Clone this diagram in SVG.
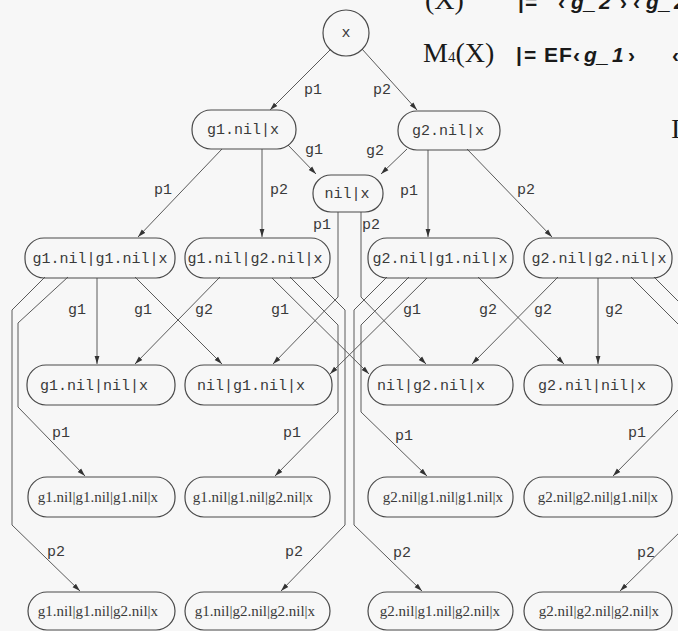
<svg xmlns="http://www.w3.org/2000/svg" width="678" height="631" viewBox="0 0 678 631">
  <defs>
    <marker id="ah" viewBox="0 0 8 6" refX="8" refY="3" markerWidth="8" markerHeight="6" orient="auto" markerUnits="userSpaceOnUse">
      <path d="M0,0.6 L8,3 L0,5.4 z" fill="#333"/>
    </marker>
    <style>
      .bg { fill: #f7f7f7; }
      .node rect, .node circle { fill: none; stroke: #4a4a4a; stroke-width: 1.2; }
      .e { fill: none; stroke: #5a5a5a; stroke-width: 1; marker-end: url(#ah); }
      .m { font-family: "Liberation Mono", "DejaVu Sans Mono", monospace; font-size: 15px; fill: #3a3a3a; }
      .mc { text-anchor: middle; }
      .s { font-family: "Liberation Serif", "DejaVu Serif", serif; font-size: 15px; fill: #3a3a3a; text-anchor: middle; }
      .lbl { font-family: "Liberation Mono", "DejaVu Sans Mono", monospace; font-size: 15px; fill: #3a3a3a; }
      .hs { font-family: "Liberation Serif", "Times New Roman", serif; font-size: 28px; fill: #1a1a1a; }
      .hb { font-family: "Liberation Sans", Arial, sans-serif; font-size: 21px; font-weight: bold; fill: #1a1a1a; }
    </style>
  </defs>

  <rect class="bg" x="0" y="0" width="678" height="631"/>

  <!-- formulas in the upper right, partly cut by the page edge -->
  <g id="formulas">
    <text class="hs" x="425" y="9">(X)</text>
    <text class="hb" x="518 525 558 571 584 599 620 633 646 659 674" y="9">|=‹<tspan font-style="italic">g_2</tspan>›‹<tspan font-style="italic">g_2</tspan></text>
    <text class="hs" x="423" y="62">M<tspan font-size="15">4</tspan>(X)</text>
    <text class="hb" x="516 524 544 559 573 584 597 612 628 672" y="62">|=EF‹<tspan font-style="italic">g_1</tspan>›‹</text>
    <text class="hs" x="671" y="138">I</text>
  </g>

  <!-- connectors -->
  <g id="connectors">
    <path class="e" d="M331,49 L270,110"/>
    <path class="e" d="M362,49 L417,110"/>
    <path class="e" d="M222,149 L138,237"/>
    <path class="e" d="M262,149 L262,237"/>
    <path class="e" d="M288,145 L316,174"/>
    <path class="e" d="M407,149 L381,174"/>
    <path class="e" d="M428,150 L428,237"/>
    <path class="e" d="M467,149 L552,237"/>
    <path class="e" d="M338,212 L338,297 L273,364"/>
    <path class="e" d="M361,212 L361,297 L426,364"/>

    <path class="e" d="M97,278 L97,364"/>
    <path class="e" d="M135,277 L222,364"/>
    <path class="e" d="M68,277 L18,323 L18,407 L85,476"/>
    <path class="e" d="M45,277 L12,310 L12,525 L80,591"/>

    <path class="e" d="M220,277 L135,364"/>
    <path class="e" d="M272,278 L369,374"/>
    <path class="e" d="M290,277 L338,325 L338,412 L275,476"/>
    <path class="e" d="M312,277 L345,310 L345,525 L281,591"/>

    <path class="e" d="M427,278 L330,374"/>
    <path class="e" d="M478,277 L564,364"/>
    <path class="e" d="M409,277 L361,325 L361,412 L427,476"/>
    <path class="e" d="M387,277 L354,310 L354,525 L422,591"/>

    <path class="e" d="M558,277 L472,364"/>
    <path class="e" d="M598,278 L598,364"/>
    <path class="e" d="M631,277 L681,327 L681,407 L613,476"/>
    <path class="e" d="M654,277 L687,310 L687,525 L620,591"/>
  </g>

  <!-- connector labels -->
  <g id="connector-labels" class="lbl">
    <text x="304" y="94">p1</text>
    <text x="373" y="94">p2</text>
    <text x="154" y="194">p1</text>
    <text x="270" y="194">p2</text>
    <text x="305" y="154">g1</text>
    <text x="366" y="155">g2</text>
    <text x="400" y="195">p1</text>
    <text x="517" y="194">p2</text>
    <text x="313" y="229">p1</text>
    <text x="362" y="229">p2</text>
    <text x="68" y="314">g1</text>
    <text x="134" y="314">g1</text>
    <text x="195" y="314">g2</text>
    <text x="271" y="314">g1</text>
    <text x="403" y="314">g1</text>
    <text x="479" y="314">g2</text>
    <text x="534" y="314">g2</text>
    <text x="605" y="314">g2</text>
    <text x="52" y="437">p1</text>
    <text x="283" y="437">p1</text>
    <text x="395" y="440">p1</text>
    <text x="628" y="437">p1</text>
    <text x="47" y="556">p2</text>
    <text x="285" y="556">p2</text>
    <text x="393" y="557">p2</text>
    <text x="637" y="557">p2</text>
  </g>

  <!-- states -->
  <g id="n-x" class="node"><circle cx="346" cy="33" r="23"/><text class="m mc" x="346" y="37" font-size="13">x</text></g>

  <g id="n-g1-x" class="node"><rect x="192" y="110" width="104" height="39" rx="19"/><text class="m mc" x="243" y="134">g1.nil|x</text></g>
  <g id="n-g2-x" class="node"><rect x="398" y="111" width="102" height="39" rx="19"/><text class="m mc" x="448" y="135">g2.nil|x</text></g>
  <g id="n-nil-x" class="node"><rect x="313" y="175" width="70" height="37" rx="18"/><text class="m mc" x="347" y="198">nil|x</text></g>

  <g id="n-g1-g1-x" class="node"><rect x="25" y="238" width="150" height="40" rx="19"/><text class="m mc" x="100" y="263">g1.nil|g1.nil|x</text></g>
  <g id="n-g1-g2-x" class="node"><rect x="185" y="238" width="145" height="40" rx="19"/><text class="m mc" x="255" y="263">g1.nil|g2.nil|x</text></g>
  <g id="n-g2-g1-x" class="node"><rect x="368" y="238" width="145" height="40" rx="19"/><text class="m mc" x="440" y="263">g2.nil|g1.nil|x</text></g>
  <g id="n-g2-g2-x" class="node"><rect x="524" y="238" width="148" height="40" rx="19"/><text class="m mc" x="599" y="263">g2.nil|g2.nil|x</text></g>

  <g id="n-g1-nil-x" class="node"><rect x="27" y="365" width="148" height="40" rx="19"/><text class="m" x="40" y="390">g1.nil|nil|x</text></g>
  <g id="n-nil-g1-x" class="node"><rect x="185" y="365" width="147" height="40" rx="19"/><text class="m" x="197" y="390">nil|g1.nil|x</text></g>
  <g id="n-nil-g2-x" class="node"><rect x="368" y="365" width="145" height="40" rx="19"/><text class="m" x="377" y="390">nil|g2.nil|x</text></g>
  <g id="n-g2-nil-x" class="node"><rect x="524" y="365" width="148" height="40" rx="19"/><text class="m" x="538" y="390">g2.nil|nil|x</text></g>

  <g id="n-g1-g1-g1-x" class="node"><rect x="28" y="477" width="147" height="40" rx="19"/><text class="s" x="98" y="502">g1.nil|g1.nil|g1.nil|x</text></g>
  <g id="n-g1-g1-g2-x" class="node"><rect x="185" y="477" width="145" height="40" rx="19"/><text class="s" x="253" y="502">g1.nil|g1.nil|g2.nil|x</text></g>
  <g id="n-g2-g1-g1-x" class="node"><rect x="368" y="477" width="145" height="40" rx="19"/><text class="s" x="443" y="502">g2.nil|g1.nil|g1.nil|x</text></g>
  <g id="n-g2-g2-g1-x" class="node"><rect x="524" y="477" width="148" height="40" rx="19"/><text class="s" x="598" y="502">g2.nil|g2.nil|g1.nil|x</text></g>

  <g id="n-g1-g1-g2-x-b" class="node"><rect x="28" y="592" width="147" height="38" rx="19"/><text class="s" x="98" y="616">g1.nil|g1.nil|g2.nil|x</text></g>
  <g id="n-g1-g2-g2-x" class="node"><rect x="185" y="592" width="145" height="38" rx="19"/><text class="s" x="255" y="616">g1.nil|g2.nil|g2.nil|x</text></g>
  <g id="n-g2-g1-g2-x" class="node"><rect x="368" y="592" width="145" height="38" rx="19"/><text class="s" x="440" y="616">g2.nil|g1.nil|g2.nil|x</text></g>
  <g id="n-g2-g2-g2-x" class="node"><rect x="524" y="592" width="148" height="38" rx="19"/><text class="s" x="599" y="616">g2.nil|g2.nil|g2.nil|x</text></g>
</svg>
